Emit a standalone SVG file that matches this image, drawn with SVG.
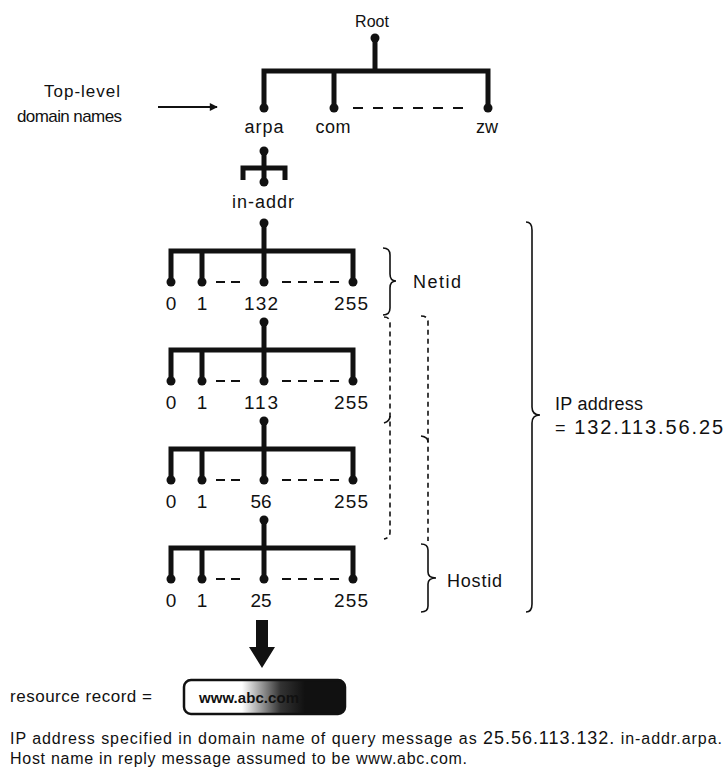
<svg xmlns="http://www.w3.org/2000/svg" width="728" height="778" viewBox="0 0 728 778">
<style>
text{font-family:"Liberation Sans",Arial,sans-serif;fill:#111;}
.lbl{font-size:17px;}
.nm{font-size:18px;text-anchor:middle;}
.num{font-size:19px;text-anchor:middle;}
.mid{text-anchor:middle;}
.edge{fill:none;stroke:#111;stroke-width:5;stroke-linejoin:miter;stroke-linecap:butt;}
.dash{fill:none;stroke:#111;stroke-width:2;}
.brace{fill:none;stroke:#111;stroke-width:1.6;}
.dbrace{fill:none;stroke:#111;stroke-width:1.6;stroke-dasharray:5 4;}
.dot{fill:#111;}
</style>
<defs>
<marker id="ah" viewBox="0 0 10 10" refX="9" refY="5" markerWidth="10" markerHeight="8" markerUnits="userSpaceOnUse" orient="auto"><path d="M0,0 L10,5 L0,10 z" fill="#111"/></marker>
<linearGradient id="rr" x1="0" y1="0" x2="1" y2="0">
<stop offset="0" stop-color="#fff"/><stop offset="0.36" stop-color="#fff"/><stop offset="0.46" stop-color="#aaa"/><stop offset="0.6" stop-color="#333"/><stop offset="0.75" stop-color="#111"/><stop offset="1" stop-color="#111"/>
</linearGradient>
</defs>

<g id="connectors">
<line class="edge" x1="375" y1="38" x2="375" y2="71"/>
<path class="edge" d="M264,108 V71 H488 V108"/>
<line class="edge" x1="334" y1="71" x2="334" y2="108"/>
<line class="dash" x1="353" y1="108" x2="466" y2="108" stroke-dasharray="10 10"/>
<line class="edge" x1="264" y1="151" x2="264" y2="182"/>
<path class="edge" d="M243,180 V168 H285 V180"/>
<line class="edge" x1="264" y1="223" x2="264" y2="282"/>
<path class="edge" d="M171,282 V251 H353 V282"/>
<line class="edge" x1="202" y1="251" x2="202" y2="282"/>
<line class="dash" x1="216" y1="282" x2="244" y2="282" stroke-dasharray="9 6"/>
<line class="dash" x1="282" y1="282" x2="341" y2="282" stroke-dasharray="9 7"/>
<line class="edge" x1="264" y1="322" x2="264" y2="381"/>
<path class="edge" d="M171,381 V350 H353 V381"/>
<line class="edge" x1="202" y1="350" x2="202" y2="381"/>
<line class="dash" x1="216" y1="381" x2="244" y2="381" stroke-dasharray="9 6"/>
<line class="dash" x1="282" y1="381" x2="341" y2="381" stroke-dasharray="9 7"/>
<line class="edge" x1="264" y1="421" x2="264" y2="480"/>
<path class="edge" d="M171,480 V449 H353 V480"/>
<line class="edge" x1="202" y1="449" x2="202" y2="480"/>
<line class="dash" x1="216" y1="480" x2="244" y2="480" stroke-dasharray="9 6"/>
<line class="dash" x1="282" y1="480" x2="341" y2="480" stroke-dasharray="9 7"/>
<line class="edge" x1="264" y1="520" x2="264" y2="579"/>
<path class="edge" d="M171,579 V548 H353 V579"/>
<line class="edge" x1="202" y1="548" x2="202" y2="579"/>
<line class="dash" x1="216" y1="579" x2="244" y2="579" stroke-dasharray="9 6"/>
<line class="dash" x1="282" y1="579" x2="341" y2="579" stroke-dasharray="9 7"/>
<line x1="158" y1="107" x2="217" y2="107" stroke="#111" stroke-width="2" marker-end="url(#ah)"/>
<path d="M256,620 H268 V647 H275 L262,668 L249,647 H256 Z" fill="#111"/>
</g>

<g id="node-root"><circle class="dot" cx="375" cy="38" r="4.5"/><text class="mid" font-size="16" x="372" y="27">Root</text></g>
<g id="node-toplevel-label"><text class="lbl" x="120" y="97" text-anchor="end" textLength="76">Top-level</text><text class="lbl" x="122" y="122" text-anchor="end" textLength="105">domain names</text></g>
<g id="node-arpa"><circle class="dot" cx="264" cy="108" r="4.5"/><text class="nm" x="264" y="133" textLength="39">arpa</text><circle class="dot" cx="264" cy="151" r="4.5"/></g>
<g id="node-com"><circle class="dot" cx="334" cy="108" r="4.5"/><text class="nm" x="333" y="133" textLength="35">com</text></g>
<g id="node-zw"><circle class="dot" cx="488" cy="108" r="4.5"/><text class="nm" x="487" y="133">zw</text></g>
<g id="node-inaddr"><circle class="dot" cx="264" cy="182" r="4.5"/><text class="nm" x="263" y="208" textLength="62">in-addr</text><circle class="dot" cx="264" cy="223" r="4.5"/></g>

<g id="level-1">
<g id="n1-0"><circle class="dot" cx="171" cy="282" r="4.5"/><text class="num" x="171" y="310">0</text></g>
<g id="n1-1"><circle class="dot" cx="202" cy="282" r="4.5"/><text class="num" x="202" y="310">1</text></g>
<g id="n1-132"><circle class="dot" cx="264" cy="282" r="4.5"/><text class="num" x="261" y="310" textLength="34">132</text><circle class="dot" cx="264" cy="322" r="4.5"/></g>
<g id="n1-255"><circle class="dot" cx="353" cy="282" r="4.5"/><text class="num" x="351" y="310" textLength="34">255</text></g>
</g>
<g id="level-2">
<g id="n2-0"><circle class="dot" cx="171" cy="381" r="4.5"/><text class="num" x="171" y="409">0</text></g>
<g id="n2-1"><circle class="dot" cx="202" cy="381" r="4.5"/><text class="num" x="202" y="409">1</text></g>
<g id="n2-113"><circle class="dot" cx="264" cy="381" r="4.5"/><text class="num" x="261" y="409" textLength="34">113</text><circle class="dot" cx="264" cy="421" r="4.5"/></g>
<g id="n2-255"><circle class="dot" cx="353" cy="381" r="4.5"/><text class="num" x="351" y="409" textLength="34">255</text></g>
</g>
<g id="level-3">
<g id="n3-0"><circle class="dot" cx="171" cy="480" r="4.5"/><text class="num" x="171" y="508">0</text></g>
<g id="n3-1"><circle class="dot" cx="202" cy="480" r="4.5"/><text class="num" x="202" y="508">1</text></g>
<g id="n3-56"><circle class="dot" cx="264" cy="480" r="4.5"/><text class="num" x="261" y="508">56</text><circle class="dot" cx="264" cy="520" r="4.5"/></g>
<g id="n3-255"><circle class="dot" cx="353" cy="480" r="4.5"/><text class="num" x="351" y="508" textLength="34">255</text></g>
</g>
<g id="level-4">
<g id="n4-0"><circle class="dot" cx="171" cy="579" r="4.5"/><text class="num" x="171" y="607">0</text></g>
<g id="n4-1"><circle class="dot" cx="202" cy="579" r="4.5"/><text class="num" x="202" y="607">1</text></g>
<g id="n4-25"><circle class="dot" cx="264" cy="579" r="4.5"/><text class="num" x="261" y="607">25</text></g>
<g id="n4-255"><circle class="dot" cx="353" cy="579" r="4.5"/><text class="num" x="351" y="607" textLength="34">255</text></g>
</g>

<g id="braces">
<path class="brace" d="M383,248 Q390,248 390,255 L390,274 Q390,281 396,281 Q390,281 390,288 L390,308 Q390,315 383,315"/>
<text font-size="18" x="413" y="288" textLength="48">Netid</text>
<path class="dbrace" d="M384,317 Q390,317 390,323 L390,532 Q390,538 384,539"/>
<path class="brace" d="M390,416 Q390,421 384,423"/>
<path class="dbrace" d="M421,316 Q428,316 428,322 L428,541"/>
<path class="brace" d="M421,436 Q428,437 428,442"/>
<path class="brace" d="M421,544 Q428,544 428,550 L428,572 Q428,578 436,578 Q428,578 428,584 L428,606 Q428,612 421,612"/>
<text font-size="18" x="447" y="587" textLength="55">Hostid</text>
<path class="brace" d="M526,222 Q532,222 532,230 L532,407 Q532,415 540,415 Q532,415 532,423 L532,604 Q532,612 526,612"/>
<text font-size="18" x="555" y="410" textLength="88">IP address</text>
<text font-size="18" x="555" y="434" textLength="168">= <tspan font-size="20">132.113.56.25</tspan></text>
</g>

<g id="node-resource-record">
<text class="lbl" x="10" y="702" textLength="142">resource record =</text>
<rect x="184" y="680" width="161" height="34" rx="7" ry="7" fill="url(#rr)" stroke="#111" stroke-width="2.5"/>
<text x="199" y="703" font-size="15" font-weight="bold" textLength="100">www.abc.com</text>
</g>

<g id="caption">
<text font-size="16" x="10" y="744" textLength="712">IP address specified in domain name of query message as <tspan font-size="18">25.56.113.132.</tspan> in-addr.arpa.</text>
<text font-size="16" x="10" y="764" textLength="457">Host name in reply message assumed to be www.abc.com.</text>
</g>
</svg>
